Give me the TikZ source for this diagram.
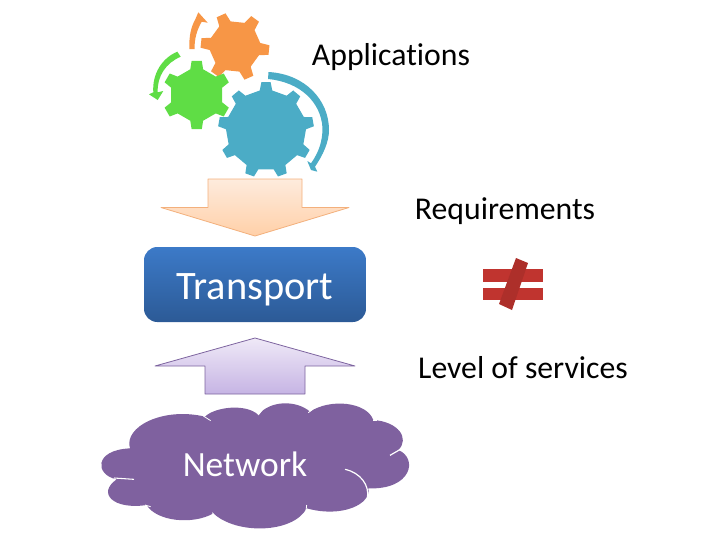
\documentclass[tikz,border=0pt]{standalone}
\usepackage{fontspec}
\setmainfont[Ligatures=NoCommon]{Carlito}
\definecolor{gearorange}{HTML}{F79646}
\definecolor{geargreen}{HTML}{5FDD45}
\definecolor{gearblue}{HTML}{4BACC6}
\definecolor{cloudpurple}{HTML}{7F619F}
\definecolor{notred}{HTML}{C0342F}
\definecolor{boxtop}{HTML}{3C7AC8}
\definecolor{boxbot}{HTML}{2C5A96}
\definecolor{downtop}{HTML}{FEEBDD}
\definecolor{downbot}{HTML}{FFD0A8}
\definecolor{downline}{HTML}{F3B07C}
\definecolor{uptop}{HTML}{EFE9F7}
\definecolor{upbot}{HTML}{C6B4E4}
\definecolor{upline}{HTML}{7D649F}
\tikzset{
  label/.style={inner sep=0pt,text=black,font=\fontsize{23.8}{28}\selectfont},
  inlabel/.style={inner sep=0pt,text=white},
  blockarrow/.style={line width=0.6pt,line join=round},
}
% cx, cy, teeth, outer r, inner r, rotation, tip half angle, base half angle, colour
\newcommand{\gearshape}[9]{%
  \fill[#9,shift={(#1,#2)}] ({#6-#8}:#5)
    \foreach \i in {1,...,#3} {
      -- ({#6+(\i-1)*360/#3-#8}:#5)
      -- ({#6+(\i-1)*360/#3-#7}:#4)
      -- ({#6+(\i-1)*360/#3+#7}:#4)
      -- ({#6+(\i-1)*360/#3+#8}:#5)
    } -- cycle;}
\begin{document}
\begin{tikzpicture}[x=0.75pt,y=-0.75pt]
\useasboundingbox (0,0) rectangle (720,540);
% gears
\gearshape{235}{46.5}{6}{34.5}{25.5}{6}{8}{14}{gearorange}
\gearshape{196.7}{95}{6}{34.5}{26.5}{90}{8.5}{14}{geargreen}
\gearshape{266}{130}{9}{48}{40}{-90}{5.5}{9}{gearblue}
% circular arrows
\fill[gearorange] (189.3,49) .. controls (189,36) and (191,27) .. (195,20)
  -- (198.3,12.3) -- (207.7,22.7) -- (201.7,21.7)
  .. controls (197,30) and (194.5,38) .. (194.5,49) -- cycle;
\fill[geargreen] (177.3,51.7) .. controls (162,58) and (152,74) .. (153.3,92.3)
  -- (149,94.3) -- (157.7,100) -- (163.3,91) -- (157.7,92.3)
  .. controls (157,76) and (166,63) .. (180.7,56.7) -- cycle;
\fill[gearblue] (268.5,72) .. controls (305,74) and (329,100) .. (329,130)
  .. controls (329,142) and (323,155) .. (315,166.7)
  -- (317.3,171.7) -- (311,170) -- (307.3,161) -- (311,163.3)
  .. controls (319,152) and (322.5,141) .. (322.5,128)
  .. controls (321,102) and (300,82) .. (268,79) -- cycle;
% block arrows
\path[blockarrow,draw=downline,top color=downtop,bottom color=downbot]
  (208,179) -- (302,179) -- (302,207.5) -- (349,207.5) -- (255,236) -- (161,207.5) -- (208,207.5) -- cycle;
\path[blockarrow,draw=upline,top color=uptop,bottom color=upbot]
  (255,338) -- (355,366) -- (305,366) -- (305,394) -- (205,394) -- (205,366) -- (155,366) -- cycle;
% transport box
\node[rounded corners=10pt,minimum width=166.5pt,minimum height=56.25pt,inner sep=0pt,
  top color=boxtop,bottom color=boxbot] (transportbox) at (255,284.5) {};
\node[inlabel,font=\fontsize{30.3}{36}\selectfont] (transport) at (255,290) {Transport};
% cloud
\begin{scope}[shift={(90,390)},x=0.25pt,y=-0.25pt]
\fill[cloudpurple] (120,175)
  .. controls (100,110) and (220,50) .. (345,80)
  .. controls (375,50) and (470,40) .. (505,75)
  .. controls (540,30) and (620,30) .. (660,65)
  .. controls (720,25) and (830,35) .. (850,90)
  .. controls (925,95) and (960,145) .. (925,180)
  .. controls (985,205) and (965,300) .. (835,295)
  .. controls (845,340) and (760,385) .. (650,355)
  .. controls (610,430) and (440,435) .. (370,370)
  .. controls (310,405) and (200,395) .. (170,345)
  .. controls (70,360) and (20,310) .. (80,268)
  .. controls (15,255) and (10,180) .. (120,175) -- cycle;
\draw[white,line width=0.9pt,line cap=round] (766,238) .. controls (810,248) and (840,285) .. (832,325);
\draw[white,line width=0.9pt] (900,196) -- (945,170);
\draw[white,line width=0.8pt] (72,264) -- (132,268);
\draw[white,line width=0.6pt] (340,78) -- (362,92);
\draw[white,line width=0.6pt] (505,75) -- (515,62);
\draw[white,line width=0.6pt] (655,68) -- (668,58);
\draw[white,line width=0.6pt] (165,345) -- (182,350);
\draw[white,line width=0.6pt] (367,368) -- (378,382);
\draw[white,line width=0.6pt] (650,345) -- (648,362);
\draw[white,line width=0.6pt] (850,92) -- (862,92);
\end{scope}
\node[inlabel,font=\fontsize{26.6}{32}\selectfont] (network) at (245,464) {Network};
% labels
\node[label] (applications) at (391,57) {Applications};
\node[label] (requirements) at (505,211) {Requirements};
\node[label] (services) at (523,368) {Level of services};
% not-equal
\fill[notred] (483,269) rectangle (543,282);
\fill[notred] (483,288) rectangle (543,300);
\fill[notred!90!black] (516,258) -- (528,263) -- (512,310) -- (499,304) -- cycle;
\end{tikzpicture}
\end{document}
